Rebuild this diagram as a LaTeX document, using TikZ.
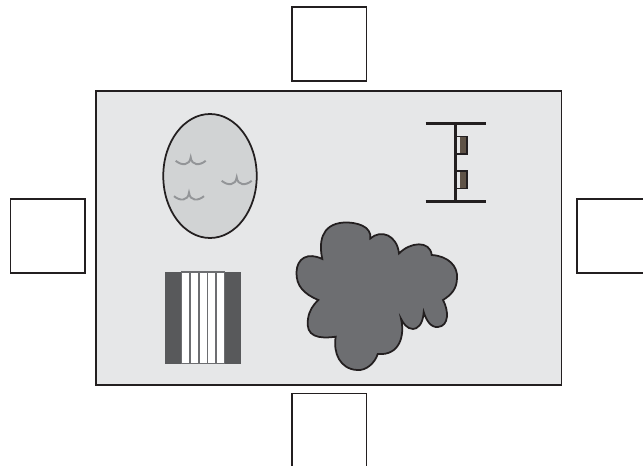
\documentclass[tikz,border=0pt]{standalone}
\usepackage{tikz}
\usepackage{xcolor}
\usetikzlibrary{shapes.geometric}

\definecolor{lawn}{HTML}{E6E7E8}
\definecolor{pondgray}{HTML}{D1D3D4}
\definecolor{wavegray}{HTML}{939598}
\definecolor{bushgray}{HTML}{6D6E71}
\definecolor{deckgray}{HTML}{58595B}
\definecolor{inkblack}{HTML}{231F20}
\definecolor{seatbrown}{HTML}{5F5347}

\begin{document}
\begin{tikzpicture}[x=0.02cm,y=-0.02cm]
    \useasboundingbox (0,0) rectangle (643,466);
    \clip (0,0) rectangle (643,466);

    % Outer squares
    \node[draw=inkblack, line width=0.8pt, rectangle, inner sep=0pt, minimum width=1.49cm, minimum height=1.48cm] (north) at (329.2,44) {};
    \node[draw=inkblack, line width=0.8pt, rectangle, inner sep=0pt, minimum width=1.49cm, minimum height=1.48cm] (west) at (47.7,236) {};
    \node[draw=inkblack, line width=0.8pt, rectangle, inner sep=0pt, minimum width=1.49cm, minimum height=1.48cm] (east) at (614.2,236) {};
    \node[draw=inkblack, line width=0.8pt, rectangle, inner sep=0pt, minimum width=1.49cm, minimum height=1.48cm] (south) at (329.2,430.5) {};

    % Main field
    \node[draw=inkblack, line width=1pt, rectangle, fill=lawn, inner sep=0pt, minimum width=9.31cm, minimum height=5.88cm] (field) at (328.7,238) {};

    % Pond
    \node[draw=inkblack, line width=1pt, ellipse, fill=pondgray, inner sep=0pt, minimum width=1.87cm, minimum height=2.48cm] (pond) at (210,176) {};
    \foreach \wx/\wy in {190.7/157.3, 236.7/177.3, 189/192.7}
        \draw[wavegray, line width=1.1pt, shift={(\wx,\wy)}] (-15,3.5) .. controls (-9,8.5) and (-1,8.5) .. (0,0) .. controls (1,8.5) and (9,8.5) .. (15,3.5);

    % Deck
    \fill[deckgray] (165,272) rectangle (181.7,364);
    \fill[deckgray] (224.3,272) rectangle (241,364);
    \draw[bushgray, line width=0.9pt, fill=white] (181.7,272) rectangle (224.3,363.7);
    \foreach \sx in {190.2,198.9,207.4,216}
        \draw[bushgray, line width=0.9pt] (\sx,272) -- (\sx,363.7);

    % Swing
    \draw[inkblack, line width=1.9pt] (425.5,123.3) -- (485.5,123.3);
    \draw[inkblack, line width=1.9pt] (425.5,201.5) -- (485.5,201.5);
    \draw[inkblack, line width=1.7pt] (455.3,123.3) -- (455.3,201.5);
    \foreach \sy in {136.5,171}{
        \fill[seatbrown] (460,\sy) rectangle (466.7,\sy+17.5);
        \draw[inkblack, line width=1.1pt] (456,\sy) -- (466.7,\sy) -- (466.7,\sy+17.5) -- (456,\sy+17.5);
    }

    % Bush
    \draw[inkblack, line width=1pt, fill=bushgray] (322.3,259)
        .. controls (319,244) and (320,224) .. (344,222.5)
        .. controls (356,222) and (372,226) .. (370.3,238.5)
        .. controls (381,229) and (397,235) .. (399,253.5)
        .. controls (410,242) and (430,240) .. (431.7,255)
        .. controls (448,256) and (458,266) .. (457,278)
        .. controls (457,289) and (451,295) .. (443,300)
        .. controls (449,311) and (449,326) .. (438,327)
        .. controls (431,328) and (426,320) .. (423.7,312)
        .. controls (423,325) and (417,329) .. (413,329)
        .. controls (407,329) and (403,323) .. (401,318.7)
        .. controls (405,335) and (400,356) .. (377.7,354)
        .. controls (375,363) and (366,371) .. (357,370)
        .. controls (340,369) and (333,353) .. (335.7,336.7)
        .. controls (319,339) and (305,337) .. (308,319)
        .. controls (309,311) and (313,305) .. (318.3,300)
        .. controls (304,294) and (296,286) .. (296.5,272)
        .. controls (297,258) and (308,252) .. (322.3,259) -- cycle;
\end{tikzpicture}
\end{document}
